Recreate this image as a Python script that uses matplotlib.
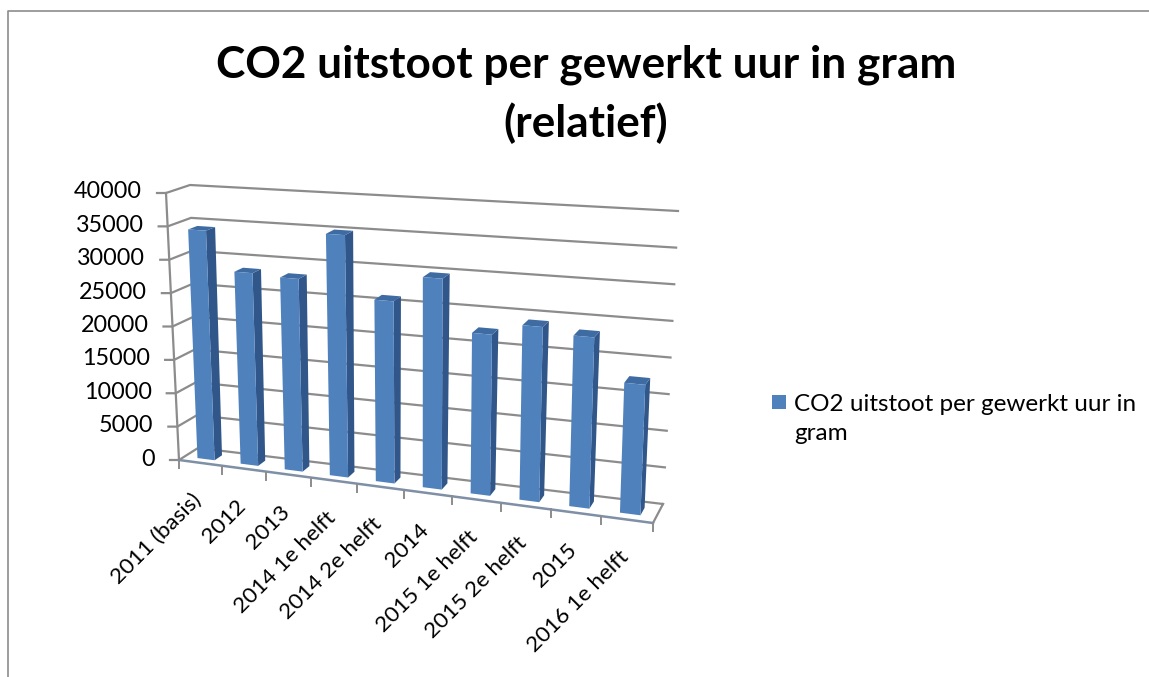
import numpy as np
import matplotlib
matplotlib.use('Agg')
import matplotlib.pyplot as plt
from matplotlib.patches import Polygon, Rectangle

plt.rcParams['font.family'] = ['Lato', 'DejaVu Sans']

# data
categories = ['2011 (basis)', '2012', '2013', '2014 1e helft', '2014 2e helft',
              '2014', '2015 1e helft', '2015 2e helft', '2015', '2016 1e helft']
values = [34300, 28500, 28200, 35100, 26100, 29900, 22600, 24300, 23500, 17700]
yticks = [0, 5000, 10000, 15000, 20000, 25000, 30000, 35000, 40000]
title = 'CO2 uitstoot per gewerkt uur in gram\n(relatief)'
legend_text = 'CO2 uitstoot per gewerkt uur in\ngram'

# corners of the 3d box in pixels: [left/right][front/back][bottom/top]
corners = {(0, 0, 0): (179, 460), (0, 1, 0): (198, 448),
           (0, 0, 1): (166, 193), (0, 1, 1): (190, 185),
           (1, 0, 0): (653, 523), (1, 1, 0): (663, 504),
           (1, 0, 1): (663, 226), (1, 1, 1): (678, 211)}
ymax = yticks[-1]
ncat = len(categories)
grid_col = '#8c8c8c'


def proj(i, d, v):
    # i = category position, d = depth 0..1, v = value
    u = i / ncat
    u = 0.9 * u + 0.1 * u * u   # perspective, categories get wider to the right
    w = v / ymax
    x, y = 0.0, 0.0
    for (a, b, c), (px, py) in corners.items():
        f = (u if a else 1 - u) * (d if b else 1 - d) * (w if c else 1 - w)
        x += f * px
        y += f * py
    return x, y


fig = plt.figure(figsize=(11.49, 6.77), dpi=100)
ax = fig.add_axes([0, 0, 1, 1])
ax.set_xlim(0, 1149)
ax.set_ylim(677, 0)
ax.axis('off')

# rand van de grafiek
ax.plot([8, 8, 1149], [677, 11, 11], color='#8c8c8c', lw=1.2)

# gridlines + value ticks
for t in yticks:
    a = proj(0, 0, t)
    b = proj(0, 1, t)
    c = proj(ncat, 1, t)
    ax.plot([a[0] - 9, a[0], b[0], c[0]], [a[1], a[1], b[1], c[1]],
            color=grid_col, lw=1.6, solid_joinstyle='miter', zorder=1)
    ax.text(a[0] - 24, a[1] - 1, str(t), ha='right', va='center', fontsize=16.8,
            color='black')

# axes
p0 = proj(0, 0, 0)
p1 = proj(0, 0, ymax)
ax.plot([p0[0], p1[0]], [p0[1], p1[1]], color=grid_col, lw=1.6, zorder=1)
front = [proj(i, 0, 0) for i in range(ncat + 1)]
ax.plot([p[0] for p in front], [p[1] for p in front], color='#7f8fa6', lw=1.8, zorder=1)
pr = proj(ncat, 1, 0)
ax.plot([front[-1][0], pr[0]], [front[-1][1], pr[1]], color=grid_col, lw=1.6, zorder=1)
for p in front:
    ax.plot([p[0], p[0]], [p[1], p[1] + 8], color=grid_col, lw=1.4, zorder=1)

# bars
bw = 0.2
d0, d1 = 0.3, 0.7
for n, v in enumerate(values):
    l, r = n + 0.5 - bw, n + 0.5 + bw
    ax.add_patch(Polygon([proj(r, d0, 0), proj(r, d1, 0), proj(r, d1, v), proj(r, d0, v)],
                         fc='#30568a', ec='none', zorder=3))
    ax.add_patch(Polygon([proj(l, d0, v), proj(r, d0, v), proj(r, d1, v), proj(l, d1, v)],
                         fc='#3f6ba3', ec='none', zorder=3))
    ax.add_patch(Polygon([proj(l, d0, 0), proj(r, d0, 0), proj(r, d0, v), proj(l, d0, v)],
                         fc='#4f81bd', ec='none', zorder=4))

# category labels
for n, name in enumerate(categories):
    p = proj(n + 0.5, 0, 0)
    ax.text(p[0] - 9, p[1] + 27, name, rotation=45, rotation_mode='anchor',
            ha='right', va='top', fontsize=16.2, color='black')

ax.text(586, 94, title, ha='center', va='center', fontsize=31.8, fontweight='bold',
        linespacing=1.5, color='black')

# legend
ax.add_patch(Rectangle((772, 395), 14, 14, fc='#4f81bd', ec='none'))
ax.text(794, 419, legend_text, ha='left', va='center', fontsize=17.5, linespacing=1.46,
        color='black')

plt.savefig('out.png', dpi=100)
